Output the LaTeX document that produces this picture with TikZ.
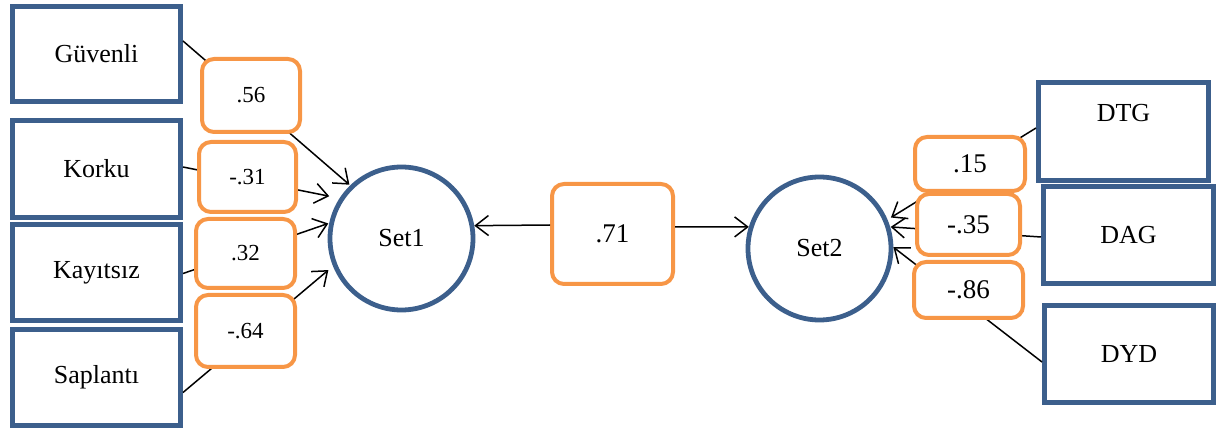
\documentclass[tikz,border=0pt]{standalone}
\usepackage{fontspec}
\setmainfont{Liberation Serif}
\newfontfamily\tnrfont{Liberation Serif}
\usetikzlibrary{arrows.meta}
\definecolor{boxblue}{RGB}{60,95,140}
\definecolor{lblorange}{RGB}{247,150,70}
\tikzset{
  varbox/.style={draw=boxblue, line width=5pt, fill=white, rectangle, inner sep=0pt,
    font=\tnrfont\fontsize{26}{31}\selectfont},
  setcirc/.style={draw=boxblue, line width=4.8pt, circle, minimum size=143pt, inner sep=0pt,
    font=\tnrfont\fontsize{26}{31}\selectfont},
  wbox/.style={draw=lblorange, line width=4pt, fill=white, rounded corners=12pt, inner sep=0pt,
    font=\tnrfont\fontsize{27}{32}\selectfont},
  wboxs/.style={wbox, font=\tnrfont\fontsize{23}{28}\selectfont},
  conn/.style={line width=1.5pt, draw=black},
  arr/.style={conn, -{Straight Barb[length=13pt, width=20pt, line width=1.5pt]}},
}
\begin{document}
\begin{tikzpicture}[x=1pt, y=-1pt]
\useasboundingbox (0,0) rectangle (1224,430);
% left variables
\node[varbox, minimum width=168pt, minimum height=95pt] (guv) at (96.5,54) {Güvenli};
\node[varbox, minimum width=168pt, minimum height=97pt] (kor) at (96.5,169) {Korku};
\node[varbox, minimum width=168pt, minimum height=96pt] (kay) at (96.5,272.5) {Kayıtsız};
\node[varbox, minimum width=168pt, minimum height=96pt] (sap) at (96.5,377.5) {Saplantı};
% right variables
\node[varbox, minimum width=170pt, minimum height=98pt] (dtg) at (1123.5,131.5) {\raisebox{37pt}{DTG}};
\node[varbox, minimum width=170pt, minimum height=97pt] (dag) at (1128.5,235) {DAG};
\node[varbox, minimum width=169pt, minimum height=97pt] (dyd) at (1129,354) {DYD};
% sets
\node[setcirc] (set1) at (401.5,238.5) {Set1};
\node[setcirc] (set2) at (819.5,248.5) {Set2};
% connectors
\draw[arr, shorten >=1pt] ([yshift=13pt]guv.east) -- (set1.134.4);
\draw[arr, shorten >=10.5pt] ([yshift=2pt]kor.east) -- (set1.147.9);
\draw[arr, shorten >=1pt] ([yshift=-1pt]kay.east) -- (set1.168.1);
\draw[arr, shorten >=6pt] ([yshift=-15pt]sap.east) -- (set1.202.5);
\draw[arr, shorten >=4pt] ([yshift=3.5pt]dtg.west) -- (set2.23.7);
\draw[arr, shorten >=0.5pt] ([yshift=-2pt]dag.west) -- (set2.17.1);
\draw[arr] ([yshift=-8pt]dyd.west) -- (set2.1.2);
% labels
\node[wboxs, minimum width=98pt, minimum height=73pt] (l56) at (251,95.5) {.56};
\node[wboxs, minimum width=97pt, minimum height=70pt] (l31) at (247.5,177) {-.31};
\node[wboxs, minimum width=99pt, minimum height=69pt] (l32) at (245.5,253.5) {.32};
\node[wboxs, minimum width=99pt, minimum height=72pt] (l64) at (245.5,331) {-.64};
\node[wbox, minimum width=110pt, minimum height=54pt] (l15) at (970,164) {.15};
\node[wbox, minimum width=103pt, minimum height=61pt] (l35) at (968.5,224.5) {-.35};
\node[wbox, minimum width=109pt, minimum height=56pt] (l86) at (968.5,290) {-.86};
\node[wbox, minimum width=121pt, minimum height=100pt] (l71) at (612.5,234) {.71};
% correlation
\draw[arr] ([yshift=9pt]l71.west) -- (set1.10.4);
\draw[arr] ([yshift=7pt]l71.east) -- (set2.163.3);
\end{tikzpicture}
\end{document}
